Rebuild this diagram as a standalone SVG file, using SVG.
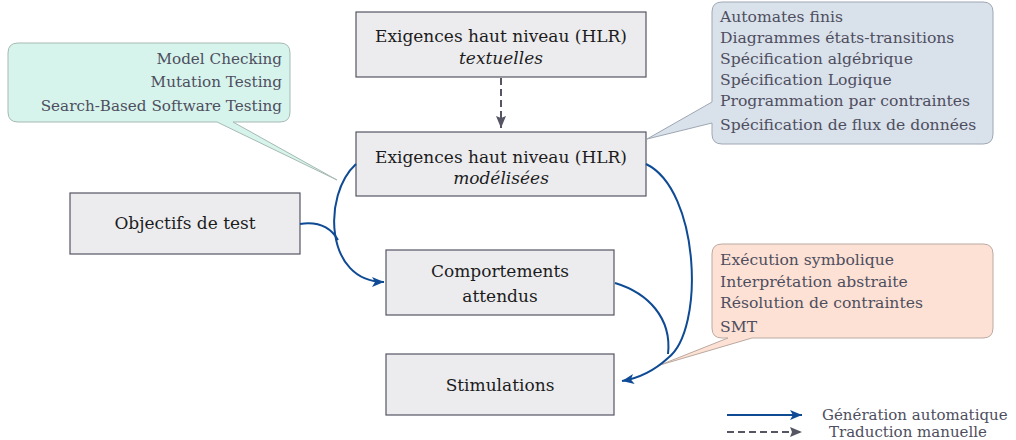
<svg xmlns="http://www.w3.org/2000/svg" width="1016" height="440" viewBox="0 0 1016 440">
<style>
.box{fill:#ececef;stroke:#555563;stroke-width:1.2}
.bt{font-family:"DejaVu Serif","Liberation Serif",serif;font-size:17px;fill:#1c1c1c;text-anchor:middle}
.it{font-style:italic}
.ct{font-family:"DejaVu Serif","Liberation Serif",serif;font-size:15.6px;fill:#4e4e5e}
.cl{font-size:15.2px}
.lg{font-size:15px}
.gen{fill:none;stroke:#0f4a94;stroke-width:2}
.man{fill:none;stroke:#555563;stroke-width:2;stroke-dasharray:7 4}
</style>
<defs>
<marker id="ab" markerUnits="userSpaceOnUse" markerWidth="14" markerHeight="12" refX="12" refY="5" orient="auto">
<path d="M0,0 L12,5 L0,10 L3,5 z" fill="#0f4a94"/>
</marker>
<marker id="ag" markerUnits="userSpaceOnUse" markerWidth="14" markerHeight="12" refX="12" refY="5" orient="auto">
<path d="M0,0 L12,5 L0,10 L2,5 z" fill="#555563"/>
</marker>
</defs>

<g id="callout-methods">
<path d="M722,2 H983 Q993,2 993,12 V134 Q993,144 983,144 H722 Q712,144 712,134 V123 L647,139 L712,102 V12 Q712,2 722,2 Z" fill="#d9e1eb" stroke="#9ea7b3" stroke-width="1"/>
<text class="ct" x="720" y="22">Automates finis</text>
<text class="ct" x="720" y="43">Diagrammes états-transitions</text>
<text class="ct" x="720" y="64">Spécification algébrique</text>
<text class="ct" x="720" y="85">Spécification Logique</text>
<text class="ct" x="720" y="106">Programmation par contraintes</text>
<text class="ct" x="720" y="130">Spécification de flux de données</text>
</g>

<g id="callout-techniques">
<path d="M18,43 H280 Q290,43 290,53 V112 Q290,122 280,122 H233 L337,180 L217,122 H18 Q8,122 8,112 V53 Q8,43 18,43 Z" fill="#d6f4ec" stroke="#a6b9b2" stroke-width="1"/>
<text class="ct cl" x="282" y="64" text-anchor="end">Model Checking</text>
<text class="ct cl" x="282" y="87" text-anchor="end">Mutation Testing</text>
<text class="ct cl" x="282" y="111" text-anchor="end">Search-Based Software Testing</text>
</g>

<g id="callout-analysis">
<path d="M722,244 H983 Q993,244 993,254 V328 Q993,338 983,338 H752 L660,365 L728,338 H722 Q712,338 712,328 V254 Q712,244 722,244 Z" fill="#fde1d5" stroke="#bba99f" stroke-width="1"/>
<text class="ct" x="720" y="265">Exécution symbolique</text>
<text class="ct" x="720" y="287">Interprétation abstraite</text>
<text class="ct" x="720" y="308">Résolution de contraintes</text>
<text class="ct" x="720" y="332">SMT</text>
</g>

<g id="hlr-textuelles">
<rect class="box" x="356" y="12" width="290" height="65"/>
<text class="bt" x="501" y="42">Exigences haut niveau (HLR)</text>
<text class="bt it" x="501" y="64">textuelles</text>
</g>

<g id="hlr-modelisees">
<rect class="box" x="356" y="132" width="290" height="64"/>
<text class="bt" x="501" y="163">Exigences haut niveau (HLR)</text>
<text class="bt it" x="501" y="184">modélisées</text>
</g>

<g id="objectifs">
<rect class="box" x="70" y="193" width="230" height="61"/>
<text class="bt" x="185" y="229">Objectifs de test</text>
</g>

<g id="comportements">
<rect class="box" x="386" y="250" width="228" height="65"/>
<text class="bt" x="500" y="277">Comportements</text>
<text class="bt" x="500" y="302">attendus</text>
</g>

<g id="stimulations">
<rect class="box" x="386" y="354" width="228" height="61"/>
<text class="bt" x="500" y="391">Stimulations</text>
</g>

<g id="connectors">
<path class="man" d="M501,78 V128" marker-end="url(#ag)"/>
<path class="gen" d="M356,164 C322,195 325,282 384,282" marker-end="url(#ab)"/>
<path class="gen" d="M300,224 C320,221 331,228 338,240"/>
<path class="gen" d="M646,164 C700,190 705,330 668,358 C655,370 640,378 622,381" marker-end="url(#ab)"/>
<path class="gen" d="M615,283 C648,293 672,318 668,354"/>
</g>

<g id="legend">
<path class="gen" d="M727,415 H802" marker-end="url(#ab)"/>
<path class="man" d="M727,432 H802" stroke-width="1.4" stroke-dasharray="8 5" marker-end="url(#ag)"/>
<text class="ct lg" x="822" y="420">Génération automatique</text>
<text class="ct lg" x="829" y="437">Traduction manuelle</text>
</g>
</svg>
